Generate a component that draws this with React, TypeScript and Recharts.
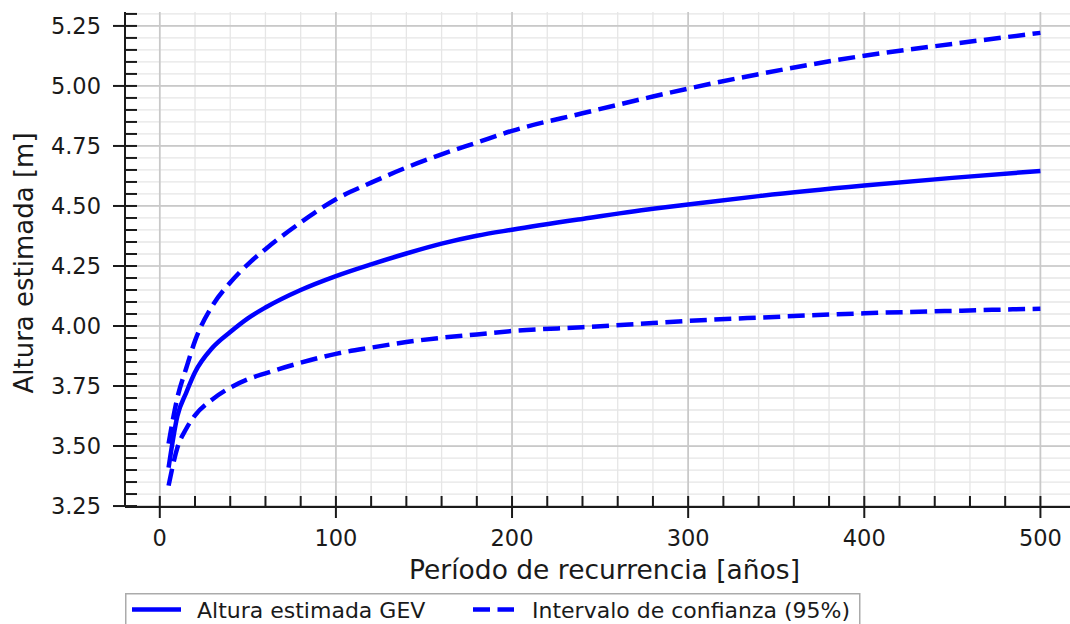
import React from 'react';
import { LineChart, Line, XAxis, YAxis, CartesianGrid, Legend } from 'recharts';

// Return period (years) and estimated heights (m)
const periods = [5, 10, 15, 20, 30, 40, 50, 60, 80, 100, 120, 140, 160, 180, 200, 240, 280, 300, 340, 400, 450, 500];
const gevHeight = [3.41, 3.625, 3.722, 3.807, 3.91, 3.975, 4.032, 4.077, 4.15, 4.208, 4.257, 4.302, 4.343, 4.376, 4.401, 4.446, 4.488, 4.506, 4.541, 4.585, 4.617, 4.646];
const upperCI = [3.51, 3.702, 3.824, 3.938, 4.086, 4.181, 4.257, 4.32, 4.431, 4.528, 4.597, 4.66, 4.715, 4.764, 4.813, 4.886, 4.956, 4.989, 5.049, 5.126, 5.175, 5.221];
const lowerCI = [3.335, 3.493, 3.572, 3.628, 3.695, 3.743, 3.778, 3.803, 3.847, 3.884, 3.91, 3.933, 3.951, 3.965, 3.979, 3.995, 4.012, 4.021, 4.035, 4.053, 4.063, 4.072];

const xMajor = [0, 100, 200, 300, 400, 500];
const yMajor = [3.25, 3.5, 3.75, 4.0, 4.25, 4.5, 4.75, 5.0, 5.25];
const xMinor = Array.from({ length: 27 }, (_, i) => i * 20);
const yMinor = Array.from({ length: 42 }, (_, i) => 3.25 + i * 0.05);

const xDomain = [-19.75, 524.75];
const yDomain = [3.246, 5.308];

const data = periods.map((p, i) => ({
  periodo: p,
  gev: gevHeight[i],
  sup: upperCI[i],
  inf: lowerCI[i],
}));

const FONT = 'DejaVu Sans';
const INK = '#1a1a1a';
const BLUE = '#0000ff';
const LW = 4.5;
const DASH = '17 7.5';

// major ticks cross the spine (in + out), minor ticks point inward
const XTick = (props: any) => {
  const { x, y, payload } = props;
  const v = payload.value;
  const major = Math.abs(v % 100) < 1e-6;
  return (
    <g>
      <line x1={x} x2={x} y1={y - 11} y2={major ? y + 11 : y} stroke={INK} strokeWidth={2} />
      {major && (
        <text x={x} y={y + 39} textAnchor="middle" fontFamily={FONT} fontSize={22.5} fill={INK}>
          {v}
        </text>
      )}
    </g>
  );
};

const YTick = (props: any) => {
  const { x, y, payload } = props;
  const v = payload.value;
  const major = Math.abs(v * 4 - Math.round(v * 4)) < 1e-6;
  return (
    <g>
      <line x1={major ? x - 12 : x} x2={x + 12} y1={y} y2={y} stroke={INK} strokeWidth={2} />
      {major && (
        <text x={x - 24} y={y + 8.3} textAnchor="end" fontFamily={FONT} fontSize={22.5} fill={INK}>
          {v.toFixed(2)}
        </text>
      )}
    </g>
  );
};

const LegendBox = () => (
  <svg width={736} height={40} style={{ display: 'block' }}>
    <rect x={0.75} y={0.75} width={734} height={45} fill="#fff" stroke="#ababab" strokeWidth={1.5} />
    <line x1={7} x2={56} y1={16.5} y2={16.5} stroke={BLUE} strokeWidth={LW} />
    <text x={72} y={24.5} fontFamily={FONT} fontSize={22} fill={INK}>Altura estimada GEV</text>
    <line x1={348} x2={389} y1={16.5} y2={16.5} stroke={BLUE} strokeWidth={LW} strokeDasharray={DASH} />
    <text x={407} y={24.5} fontFamily={FONT} fontSize={22} fill={INK}>Intervalo de confianza (95%)</text>
  </svg>
);

export default function App() {
  return (
    <div style={{ position: 'absolute', left: 0, top: 0, width: 1070, height: 624, overflow: 'hidden', background: '#fff' }}>
      <LineChart width={1100} height={624} data={data} margin={{ top: 12, right: 16, left: 0, bottom: 0 }}>
        <CartesianGrid verticalValues={xMinor} horizontalValues={yMinor} stroke="#e6e6e6" strokeWidth={1.3} />
        <CartesianGrid verticalValues={xMajor} horizontalValues={yMajor} stroke="#c9c9c9" strokeWidth={1.7} />
        <XAxis
          dataKey="periodo"
          type="number"
          domain={xDomain}
          allowDataOverflow
          ticks={xMinor}
          interval={0}
          height={117}
          tickSize={0}
          tickMargin={0}
          tick={<XTick />}
          tickLine={false}
          axisLine={{ stroke: INK, strokeWidth: 2 }}
          label={(p: any) => {
            const vb = p.viewBox;
            return (
              <text x={vb.x + vb.width / 2} y={579} textAnchor="middle" fontFamily={FONT} fontSize={26.5} fill={INK}>
                Período de recurrencia [años]
              </text>
            );
          }}
        />
        <XAxis
          xAxisId="top"
          orientation="top"
          dataKey="periodo"
          type="number"
          domain={xDomain}
          allowDataOverflow
          height={0}
          tick={false}
          tickLine={false}
          axisLine={{ stroke: INK, strokeWidth: 2 }}
        />
        <YAxis
          type="number"
          domain={yDomain}
          allowDataOverflow
          ticks={yMinor}
          interval={0}
          width={125}
          tickSize={0}
          tickMargin={0}
          tick={<YTick />}
          tickLine={false}
          axisLine={{ stroke: INK, strokeWidth: 2 }}
          label={() => (
            <text transform="translate(33,263) rotate(-90)" textAnchor="middle" fontFamily={FONT} fontSize={26} fill={INK}>
              Altura estimada [m]
            </text>
          )}
        />
        <Line type="monotone" dataKey="gev" stroke={BLUE} strokeWidth={LW} dot={false} isAnimationActive={false} />
        <Line type="monotone" dataKey="sup" stroke={BLUE} strokeWidth={LW} strokeDasharray={DASH} dot={false} isAnimationActive={false} />
        <Line type="monotone" dataKey="inf" stroke={BLUE} strokeWidth={LW} strokeDasharray={DASH} dot={false} isAnimationActive={false} />
        <Legend
          layout="horizontal"
          verticalAlign="middle"
          wrapperStyle={{ top: 593, left: 125, width: 736, height: 40 }}
          content={() => <LegendBox />}
        />
      </LineChart>
    </div>
  );
}
